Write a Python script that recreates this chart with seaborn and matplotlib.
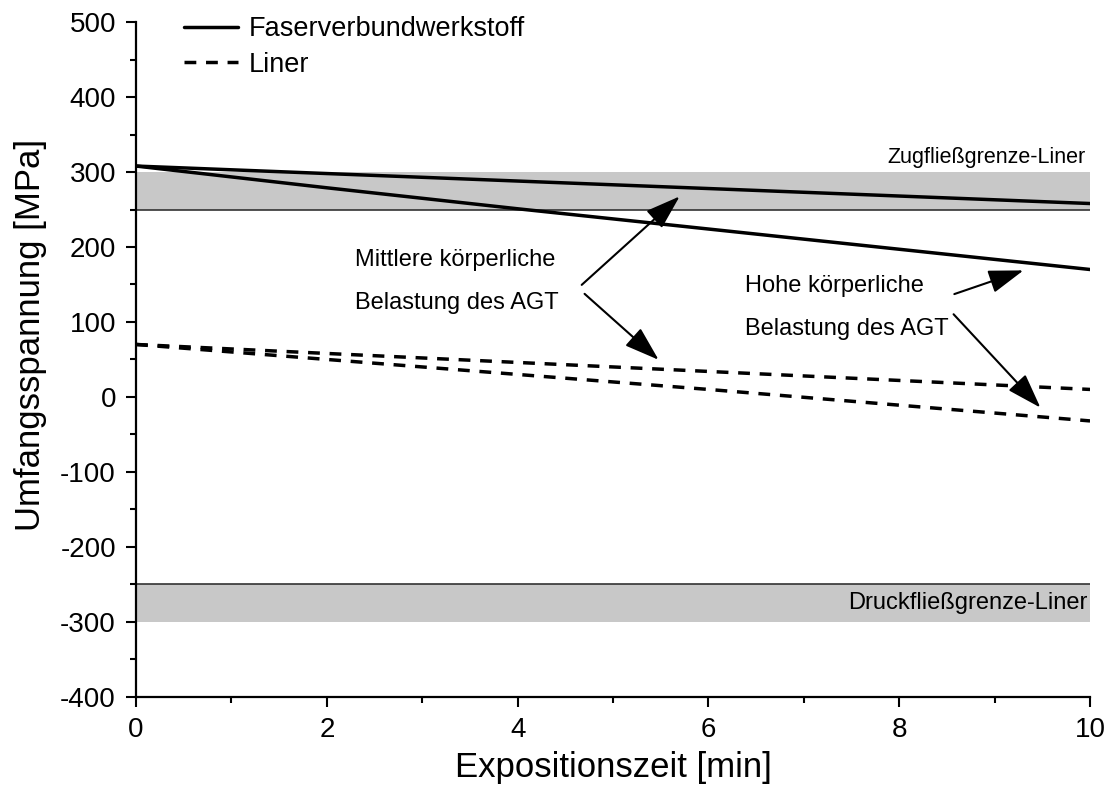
import numpy as np
import pandas as pd
import matplotlib
matplotlib.use("Agg")
import matplotlib.pyplot as plt
import seaborn as sns

# values
zeit = [0, 2, 4, 6, 8, 10]
fvw_mittel = [308, 298, 288, 278, 268, 258]
fvw_hoch = [308, 279, 251, 224, 197, 170]
liner_mittel = [70, 58, 46, 34, 22, 10]
liner_hoch = [70, 50, 30, 10, -11, -32]

zug_grenze = (250, 300)
druck_grenze = (-300, -250)

sns.set_theme(style="ticks")
plt.rcParams["font.family"] = ["Liberation Sans", "DejaVu Sans"]
plt.rcParams["axes.unicode_minus"] = False
plt.rcParams["text.color"] = "black"

fig = plt.figure(figsize=(11.15, 7.9), dpi=100)
ax = fig.add_axes([0.122, 0.118, 0.8556, 0.854])

# Fließgrenzen als graue Bänder
ax.axhspan(*zug_grenze, color="#c8c8c8", lw=0, zorder=0)
ax.axhspan(*druck_grenze, color="#c8c8c8", lw=0, zorder=0)
ax.axhline(zug_grenze[0], color="#333333", lw=1.2, zorder=1)
ax.axhline(druck_grenze[1], color="#333333", lw=1.2, zorder=1)

df = pd.DataFrame({"t": zeit, "fm": fvw_mittel, "fh": fvw_hoch,
                   "lm": liner_mittel, "lh": liner_hoch})

dash = (0, (3.4, 2.8))
sns.lineplot(data=df, x="t", y="fm", color="black", lw=2.5, ax=ax,
             label="Faserverbundwerkstoff")
sns.lineplot(data=df, x="t", y="fh", color="black", lw=2.5, ax=ax)
sns.lineplot(data=df, x="t", y="lm", color="black", lw=2.5, ax=ax,
             linestyle=dash, label="Liner")
sns.lineplot(data=df, x="t", y="lh", color="black", lw=2.5, ax=ax,
             linestyle=dash)

ax.text(9.95, 320, "Zugfließgrenze-Liner", ha="right", va="center", fontsize=15.5)
ax.text(9.97, -275, "Druckfließgrenze-Liner", ha="right", va="center", fontsize=17)

# Annotationen
fs = 17
ax.text(2.3, 183, "Mittlere körperliche", ha="left", va="center", fontsize=fs)
ax.text(2.3, 125, "Belastung des AGT", ha="left", va="center", fontsize=fs)
ax.text(6.38, 148, "Hohe körperliche", ha="left", va="center", fontsize=fs)
ax.text(6.38, 90, "Belastung des AGT", ha="left", va="center", fontsize=fs)

arrow = dict(arrowstyle="-|>,head_length=1.8,head_width=0.6", color="black", lw=1.5)
ax.annotate("", xy=(5.72, 270), xytext=(4.65, 147), arrowprops=arrow)
ax.annotate("", xy=(5.5, 47), xytext=(4.68, 140), arrowprops=arrow)
ax.annotate("", xy=(9.33, 170), xytext=(8.55, 136), arrowprops=arrow)
ax.annotate("", xy=(9.5, -17), xytext=(8.55, 113), arrowprops=arrow)

ax.set_xlim(0, 10)
ax.set_ylim(-400, 500)
ax.set_xticks(np.arange(0, 11, 2))
ax.set_xticks(np.arange(1, 10, 2), minor=True)
ax.set_yticks(np.arange(-400, 501, 100))
ax.set_yticks(np.arange(-350, 500, 100), minor=True)
ax.tick_params(which="major", direction="out", length=7.5, width=1.5, labelsize=20,
               color="black", labelcolor="black", pad=7)
ax.tick_params(which="minor", direction="out", length=4.5, width=1.5, color="black")
ax.set_xlabel("Expositionszeit [min]", fontsize=25, color="black", labelpad=6)
ax.set_ylabel("Umfangsspannung [MPa]", fontsize=25, color="black")
ax.yaxis.set_label_coords(-0.093, 0.536)
for s in ["top", "right"]:
    ax.spines[s].set_visible(False)
for s in ["left", "bottom"]:
    ax.spines[s].set_linewidth(1.6)
    ax.spines[s].set_color("black")

leg = ax.legend(loc="upper left", bbox_to_anchor=(0.025, 1.045), frameon=False,
                fontsize=19.5, handlelength=2.0, handletextpad=0.37, labelspacing=0.35)

fig.savefig("out.png", dpi=100)
